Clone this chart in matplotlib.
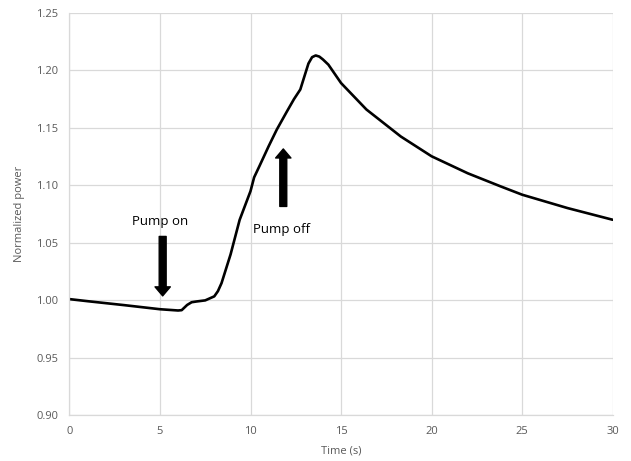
import matplotlib.pyplot as plt

plt.rcParams['font.family'] = ['Open Sans', 'DejaVu Sans']

time_s = [0, 1, 2, 3, 4, 5, 6.0, 6.2, 6.5, 6.75, 7.0, 7.5, 8.0, 8.2, 8.4, 8.9,
          9.4, 10.0, 10.2, 10.5, 11.0, 11.45, 12.0, 12.4, 12.75, 13.0, 13.2,
          13.4, 13.6, 13.8, 14.0, 14.3, 15.0, 16.4, 18.3, 20, 22, 23.8, 25,
          27.5, 30]
norm_power = [1.0011, 0.9993, 0.9976, 0.9959, 0.9941, 0.9923, 0.9912, 0.9915,
              0.9960, 0.9984, 0.9990, 1.0000, 1.0035, 1.0080, 1.0150, 1.0400,
              1.0700, 1.0950, 1.1070, 1.1170, 1.1340, 1.1485, 1.1640, 1.1750,
              1.1834, 1.1960, 1.2060, 1.2115, 1.2130, 1.2120, 1.2095, 1.2050,
              1.1890, 1.1660, 1.1425, 1.1253, 1.1105, 1.0992, 1.0919, 1.0803,
              1.0701]

xticks = [0, 5, 10, 15, 20, 25, 30]
yticks = [0.90, 0.95, 1.00, 1.05, 1.10, 1.15, 1.20, 1.25]

grey = '#595959'
grid = '#d9d9d9'

fig = plt.figure(figsize=(6.31, 4.61), dpi=100)
ax = fig.add_axes([0.110, 0.099, 0.861, 0.873])

ax.plot(time_s, norm_power, color='black', lw=1.9, solid_capstyle='round',
        solid_joinstyle='round')

ax.set_xlim(0, 30)
ax.set_ylim(0.90, 1.25)
ax.set_xticks(xticks)
ax.set_xticklabels([str(t) for t in xticks])
ax.set_yticks(yticks)
ax.set_yticklabels([f'{v:.2f}' for v in yticks])
ax.tick_params(length=0, labelsize=8, colors=grey, pad=8)
ax.grid(True, color=grid, lw=0.9)
ax.set_axisbelow(True)
for side in ['top', 'right']:
    ax.spines[side].set_visible(False)
for side in ['left', 'bottom']:
    ax.spines[side].set_color(grid)
    ax.spines[side].set_linewidth(0.9)

ax.set_xlabel('Time (s)', fontsize=8, color=grey, labelpad=6)
ax.set_ylabel('Normalized power', fontsize=8, color=grey, labelpad=8)

arrow_style = dict(facecolor='black', edgecolor='black', width=5, headwidth=11,
                   headlength=6.5, shrink=0)
ax.annotate('', xy=(5.15, 1.0039), xytext=(5.15, 1.0556), arrowprops=arrow_style)
ax.annotate('', xy=(11.81, 1.1317), xytext=(11.81, 1.0817), arrowprops=arrow_style)
ax.text(5.0, 1.0686, 'Pump on', fontsize=9.5, ha='center', va='center')
ax.text(11.73, 1.062, 'Pump off', fontsize=9.5, ha='center', va='center')

fig.savefig('out.png', dpi=100)
